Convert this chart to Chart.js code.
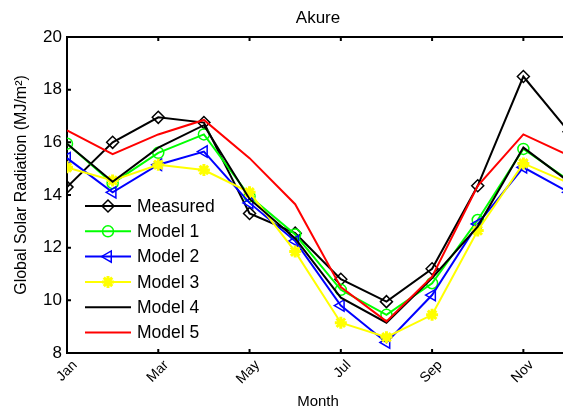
<!DOCTYPE html>
<html>
<head>
<meta charset="utf-8">
<script src="https://cdn.jsdelivr.net/npm/chart.js@4.4.1/dist/chart.umd.min.js"></script>
<style>
  html, body { margin: 0; padding: 0; background: #fff; overflow: hidden; }
  #wrap { width: 600px; height: 411px; }
</style>
</head>
<body>
<div id="wrap"><canvas id="myChart" width="600" height="411"></canvas></div>
<script>
// data
const months = [1, 2, 3, 4, 5, 6, 7, 8, 9, 10, 11, 12];
const monthNames = ["Jan", "Feb", "Mar", "Apr", "May", "Jun", "Jul", "Aug", "Sep", "Oct", "Nov", "Dec"];
const tickMonths = [1, 3, 5, 7, 9, 11];
const yTicks = [8, 10, 12, 14, 16, 18, 20];

const measured = [14.3, 16.0, 16.95, 16.75, 13.3, 12.55, 10.8, 9.95, 11.2, 14.35, 18.5, 16.4];
const model1 = [15.95, 14.45, 15.6, 16.3, 13.95, 12.5, 10.4, 9.45, 10.65, 13.05, 15.75, 14.55];
const model2 = [15.4, 14.1, 15.15, 15.65, 13.7, 12.25, 9.8, 8.4, 10.2, 12.9, 15.05, 14.1];
const model3 = [15.05, 14.55, 15.15, 14.95, 14.1, 11.85, 9.15, 8.6, 9.45, 12.65, 15.2, 14.45];
const model4 = [15.95, 14.5, 15.8, 16.65, 13.85, 12.35, 10.1, 9.15, 10.85, 12.8, 15.8, 14.5];
const model5 = [16.45, 15.55, 16.3, 16.85, 15.4, 13.65, 10.5, 9.2, 10.9, 14.35, 16.3, 15.5];

const yTitle = "Global Solar Radiation (MJ/m\u00b2)";

Chart.defaults.font.family = "'Liberation Sans', Arial, sans-serif";
Chart.defaults.color = "#000";

function toPoints(values) {
  return months.map((m, i) => ({ x: m, y: values[i] }));
}

function series(label, values, color, style, radius, rotation, order) {
  return {
    label: label,
    data: toPoints(values),
    borderColor: color,
    backgroundColor: color,
    borderWidth: 2,
    tension: 0,
    pointStyle: style,
    pointRadius: radius,
    pointRotation: rotation,
    pointBorderColor: color,
    pointBackgroundColor: style === "star" ? color : "rgba(0,0,0,0)",
    pointBorderWidth: style === "star" ? 3 : 1.5,
    order: order,
  };
}

const datasets = [
  series("Measured", measured, "#000000", "rectRot", 6, 0, 6),
  series("Model 1", model1, "#00ff00", "circle", 5.5, 0, 5),
  series("Model 2", model2, "#0000ff", "triangle", 6.5, -90, 4),
  series("Model 3", model3, "#ffff00", "star", 6, 0, 3),
  series("Model 4", model4, "#000000", "circle", 0, 0, 2),
  series("Model 5", model5, "#ff0000", "circle", 0, 0, 1),
];

// inward tick marks + y axis title (sits a bit above centre in the original)
const innerTicks = {
  id: "innerTicks",
  afterDraw(chart) {
    const { ctx, chartArea, scales } = chart;
    const len = 4;
    ctx.save();
    ctx.strokeStyle = "#000";
    ctx.lineWidth = 2;
    ctx.beginPath();
    tickMonths.forEach((m) => {
      const x = scales.x.getPixelForValue(m);
      ctx.moveTo(x, chartArea.bottom);
      ctx.lineTo(x, chartArea.bottom - len);
      ctx.moveTo(x, chartArea.top);
      ctx.lineTo(x, chartArea.top + len);
    });
    yTicks.forEach((v) => {
      const y = scales.y.getPixelForValue(v);
      ctx.moveTo(chartArea.left, y);
      ctx.lineTo(chartArea.left + len, y);
    });
    ctx.stroke();

    ctx.translate(21.5, (chartArea.top + chartArea.bottom) / 2 - 10);
    ctx.rotate(-Math.PI / 2);
    ctx.font = "16px 'Liberation Sans', Arial, sans-serif";
    ctx.fillStyle = "#000";
    ctx.textAlign = "center";
    ctx.textBaseline = "middle";
    ctx.fillText(yTitle, 0, 0);
    ctx.restore();
  },
};

// legend with line + marker, placed inside the plot
const lineLegend = {
  id: "lineLegend",
  afterDraw(chart) {
    const { ctx, chartArea } = chart;
    const x0 = chartArea.left + 18;
    const y0 = chartArea.top + 169;
    const rowH = 25.3;
    ctx.save();
    ctx.font = "17.5px 'Liberation Sans', Arial, sans-serif";
    ctx.textBaseline = "middle";
    chart.data.datasets.forEach((ds, i) => {
      const y = y0 + i * rowH;
      ctx.strokeStyle = ds.borderColor;
      ctx.lineWidth = ds.borderWidth;
      ctx.beginPath();
      ctx.moveTo(x0, y);
      ctx.lineTo(x0 + 46, y);
      ctx.stroke();
      if (ds.pointRadius > 0) {
        ctx.strokeStyle = ds.pointBorderColor;
        ctx.fillStyle = ds.pointBackgroundColor;
        ctx.lineWidth = ds.pointBorderWidth;
        Chart.helpers.drawPoint(ctx, {
          pointStyle: ds.pointStyle,
          rotation: ds.pointRotation,
          radius: ds.pointRadius,
          borderWidth: ds.pointBorderWidth,
        }, x0 + 23, y);
      }
      ctx.fillStyle = "#000";
      ctx.fillText(ds.label, x0 + 52, y + 1);
    });
    ctx.restore();
  },
};

const config = {
  type: "line",
  data: { datasets },
  options: {
    responsive: false,
    animation: false,
    devicePixelRatio: 1,
    layout: { padding: { left: 0, right: 31, top: 0, bottom: 0 } },
    plugins: {
      legend: { display: false },
      title: { display: false },
      tooltip: { enabled: false },
    },
    scales: {
      x: {
        type: "linear",
        position: "bottom",
        min: 1,
        max: 12,
        afterBuildTicks: (s) => { s.ticks = tickMonths.map((v) => ({ value: v })); },
        afterFit: (s) => { s.height = 58; },
        grid: { display: false, drawTicks: false },
        border: { display: true, color: "#000", width: 2 },
        ticks: {
          autoSkip: false,
          maxRotation: 45,
          minRotation: 45,
          padding: 4,
          labelOffset: 8,
          font: { size: 14 },
          callback: (v) => monthNames[v - 1],
        },
        title: { display: true, text: "Month", font: { size: 15 }, padding: { top: 0, bottom: 0 } },
      },
      x2: {
        type: "linear",
        position: "top",
        min: 1,
        max: 12,
        afterBuildTicks: (s) => { s.ticks = tickMonths.map((v) => ({ value: v })); },
        afterFit: (s) => { s.height = 37; },
        grid: { display: false, drawTicks: false },
        border: { display: true, color: "#000", width: 2 },
        ticks: { display: false },
        title: { display: true, text: "Akure", font: { size: 17 }, padding: { top: 8, bottom: 0 } },
      },
      y: {
        min: 8,
        max: 20,
        afterBuildTicks: (s) => { s.ticks = yTicks.map((v) => ({ value: v })); },
        afterFit: (s) => { s.width = 67; },
        grid: { display: false, drawTicks: false },
        border: { display: true, color: "#000", width: 2 },
        ticks: { padding: 5, font: { size: 17 } },
        title: { display: false },
      },
    },
  },
  plugins: [innerTicks, lineLegend],
};

const myChart = new Chart(document.getElementById("myChart"), config);
</script>
</body>
</html>
